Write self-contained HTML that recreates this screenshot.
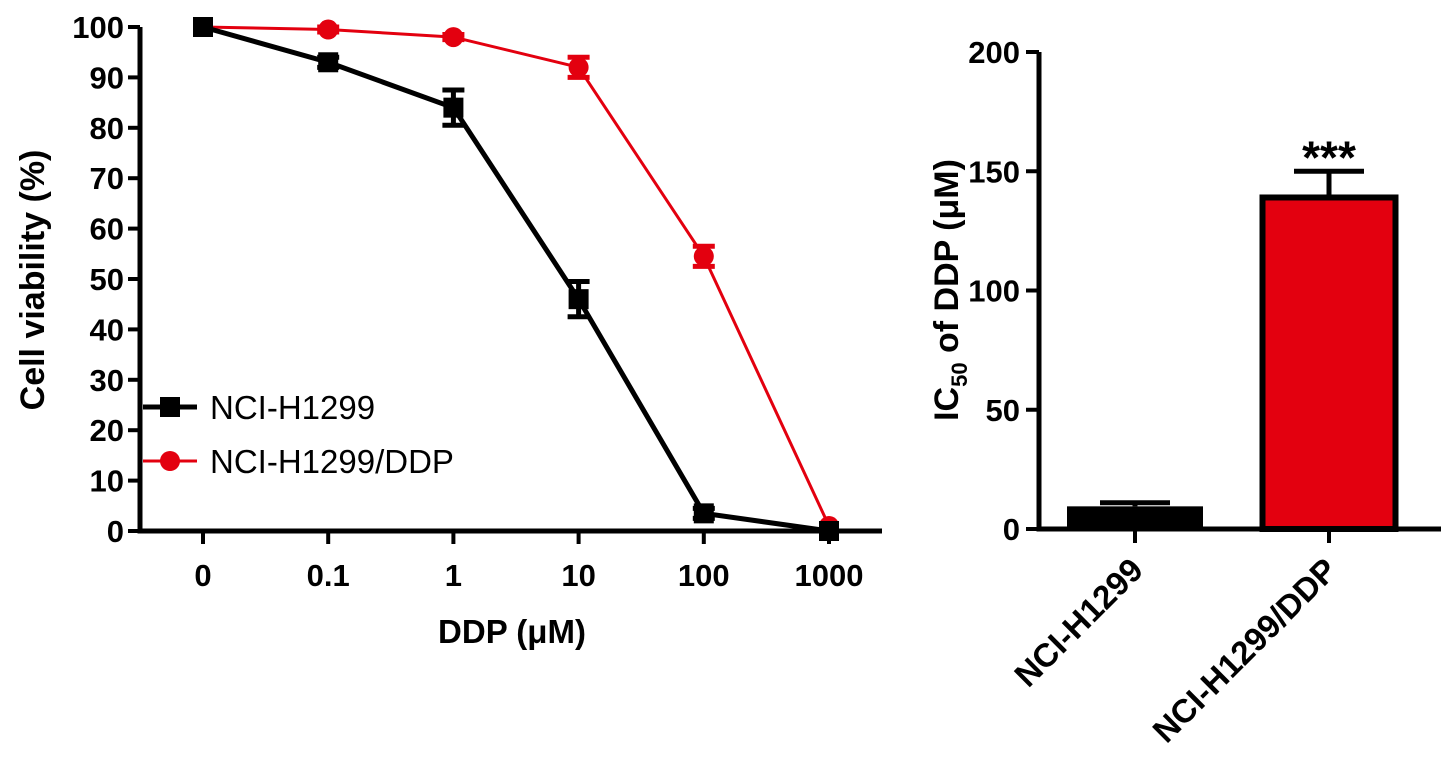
<!DOCTYPE html>
<html><head><meta charset="utf-8"><style>
body{margin:0;background:#fff}
svg{display:block;font-family:"Liberation Sans",Arial,sans-serif}
</style></head><body>
<svg id="c" width="1441" height="776" viewBox="0 0 1441 776"></svg>
<script>
const doses=["0","0.1","1","10","100","1000"];
const blackVals=[100,93,84,46,3.5,0];
const blackErr=[0,1,3.5,3.5,1,0];
const redVals=[100,99.5,98,92,54.5,1];
const redErr=[0,0.5,0.5,2,2,0];
const yTicks=[0,10,20,30,40,50,60,70,80,90,100];
const barCats=["NCI-H1299","NCI-H1299/DDP"];
const barVals=[9.5,139];
const barErr=[1.5,11];
const barTicks=[0,50,100,150,200];
const svg=document.getElementById('c');
const NS="http://www.w3.org/2000/svg";
function mk(t,a,p){const e=document.createElementNS(NS,t);for(const k in a)e.setAttribute(k,a[k]);(p||svg).appendChild(e);return e;}
const xL=i=>203+i*125.2;
const yL=v=>531-v*5.04;
const g1=mk('g',{});


let ax=mk('path',{d:`M140 ${yL(100)}V531H882`,stroke:'#000','stroke-width':5,fill:'none'},g1);


yTicks.forEach(v=>{
 mk('line',{x1:128,x2:140,y1:yL(v),y2:yL(v),stroke:'#000','stroke-width':4},g1);
 const t=mk('text',{x:124,y:yL(v)+11,'text-anchor':'end','font-size':31,'font-weight':'bold'},g1);t.textContent=v;
 
 
});
doses.forEach((d,i)=>{
 mk('line',{x1:xL(i),x2:xL(i),y1:531,y2:544,stroke:'#000','stroke-width':4},g1);
 const t=mk('text',{x:xL(i),y:586,'text-anchor':'middle','font-size':31,'font-weight':'bold'},g1);t.textContent=d;
 
 
});
let t=mk('text',{x:512,y:643,'text-anchor':'middle','font-size':33,'font-weight':'bold'},g1);t.textContent="DDP (μM)";


t=mk('text',{transform:'translate(44,280) rotate(-90)','text-anchor':'middle','font-size':34,'font-weight':'bold'},g1);t.textContent="Cell viability (%)";


function series(vals,errs,col,sq,name){
 const p=mk('polyline',{points:vals.map((v,i)=>xL(i)+','+yL(v)).join(' '),fill:'none',stroke:col,'stroke-width':sq?5:3},g1);
 
 
 vals.forEach((v,i)=>{
  const e=errs[i];
  if(e>0){mk('path',{d:`M${xL(i)} ${yL(v+e)}V${yL(v-e)}M${xL(i)-11} ${yL(v+e)}h22M${xL(i)-11} ${yL(v-e)}h22`,stroke:col,'stroke-width':5},g1);}
  let m;
  if(sq)m=mk('rect',{x:xL(i)-10,y:yL(v)-10,width:20,height:20,fill:col},g1);
  else m=mk('circle',{cx:xL(i),cy:yL(v),r:10,fill:col},g1);
  
  
 });
}
series(redVals,redErr,'#e3000f',false,'ddp');
series(blackVals,blackErr,'#000',true,'h1299');
let lg=mk('g',{},g1);
mk('line',{x1:143,x2:197,y1:407,y2:407,stroke:'#000','stroke-width':5},lg);
mk('rect',{x:160,y:397,width:20,height:20,fill:'#000'},lg);
t=mk('text',{x:210,y:419,'font-size':33},lg);t.textContent="NCI-H1299";

mk('line',{x1:143,x2:197,y1:461,y2:461,stroke:'#e3000f','stroke-width':3},lg);
mk('circle',{cx:170,cy:461,r:10,fill:'#e3000f'},lg);
t=mk('text',{x:210,y:473,'font-size':33},lg);t.textContent="NCI-H1299/DDP";

const yR=v=>529-v*2.385;
const xR=[1135,1329];
const bw=[136,133];
const g2=mk('g',{});


barVals.forEach((v,i)=>{
 const col=i?'#e3000f':'#000';
 const e=barErr[i];
 mk('path',{d:`M${xR[i]} ${yR(v)}V${yR(v+e)}M${xR[i]-35} ${yR(v+e)}h70`,stroke:'#000','stroke-width':5},g2);
 const r=mk('rect',{x:xR[i]-bw[i]/2,y:yR(v),width:bw[i],height:yR(0)-yR(v),fill:col,stroke:'#000','stroke-width':i?6:0},g2);
 
 
 mk('line',{x1:xR[i],x2:xR[i],y1:529,y2:543,stroke:'#000','stroke-width':4},g2);
 const l=mk('text',{transform:`translate(${xR[i]+10},${572}) rotate(-45)`,'text-anchor':'end','font-size':33,'font-weight':'bold'},g2);
 l.textContent=barCats[i];
 
 
});
ax=mk('path',{d:`M1039 ${yR(200)}V529H1441`,stroke:'#000','stroke-width':5,fill:'none'},g2);


barTicks.forEach(v=>{
 mk('line',{x1:1026,x2:1039,y1:yR(v),y2:yR(v),stroke:'#000','stroke-width':4},g2);
 const l=mk('text',{x:1020,y:yR(v)+11,'text-anchor':'end','font-size':31,'font-weight':'bold'},g2);l.textContent=v;
 
 
});
t=mk('text',{x:xR[1],y:yR(barVals[1]+barErr[1])+2,'text-anchor':'middle','font-size':46,'font-weight':'bold'},g2);t.textContent="***";

t=mk('text',{transform:'translate(958,290) rotate(-90)','text-anchor':'middle','font-size':34,'font-weight':'bold'},g2);
t.innerHTML='IC<tspan font-size="22" dy="9">50</tspan><tspan dy="-9"> of DDP (μM)</tspan>';

</script>
</body></html>
